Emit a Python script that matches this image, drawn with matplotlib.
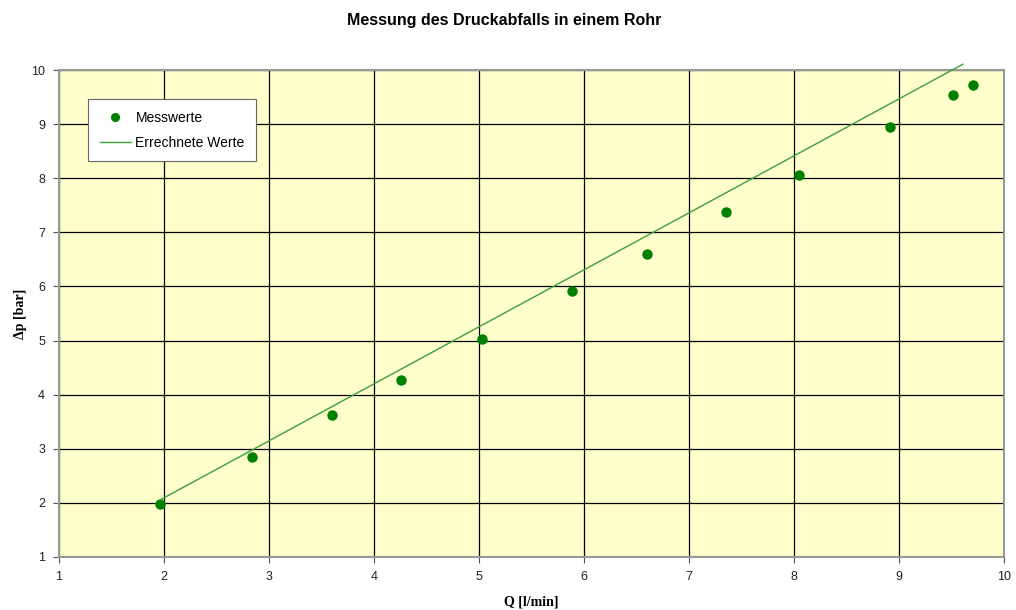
import matplotlib.pyplot as plt
import numpy as np

# measured values
q_mess = [1.96, 2.84, 3.60, 4.26, 5.03, 5.89, 6.60, 7.35, 8.05, 8.92, 9.52, 9.71]
dp_mess = [1.98, 2.85, 3.62, 4.28, 5.03, 5.91, 6.61, 7.37, 8.07, 8.94, 9.54, 9.73]

# computed line
q_calc = [1.96, 9.61]
dp_calc = [2.05, 10.11]

plt.rcParams['font.family'] = ['Liberation Sans', 'DejaVu Sans']

fig = plt.figure(figsize=(10.16, 6.1), dpi=100)
ax = fig.add_axes([0.058, 0.087, 0.930, 0.798])
ax.set_facecolor("#FFFFCC")

ax.plot(q_mess, dp_mess, "o", color="#008000", markersize=6.5, label="Messwerte", zorder=3)
ax.plot(q_calc, dp_calc, "-", color="#3CA03C", linewidth=1.0, label="Errechnete Werte",
        clip_on=False, zorder=3)

ax.set_xlim(1, 10)
ax.set_ylim(1, 10)
ax.set_xticks(np.arange(1, 11))
ax.set_yticks(np.arange(1, 11))
ax.grid(True, color="black", linewidth=0.9)
ax.set_axisbelow(True)
for s in ax.spines.values():
    s.set_color("#999999")
    s.set_linewidth(1.5)
ax.tick_params(direction="out", length=4, width=0.8, color="#555555", labelsize=9,
               labelcolor="#222222", pad=6)

fig.text(0.496, 0.967, "Messung des Druckabfalls in einem Rohr", fontsize=11.5,
         fontweight="bold", ha="center", va="center")
ax.set_xlabel("Q [l/min]", fontsize=10, fontweight="bold", labelpad=9,
              family=["Liberation Serif", "DejaVu Serif"])
ax.set_ylabel("\u0394p [bar]", fontsize=10, fontweight="bold", labelpad=3,
              family=["Liberation Serif", "DejaVu Serif"])

leg = ax.legend(loc="upper left", bbox_to_anchor=(0.031, 0.94), fontsize=10, frameon=True,
                fancybox=False, edgecolor="#666666", framealpha=1, borderpad=0.85,
                labelspacing=0.75, handlelength=2.2, handletextpad=0.35, borderaxespad=0,
                markerscale=0.85)
leg.get_frame().set_linewidth(0.8)

plt.savefig("out.png", dpi=100)
